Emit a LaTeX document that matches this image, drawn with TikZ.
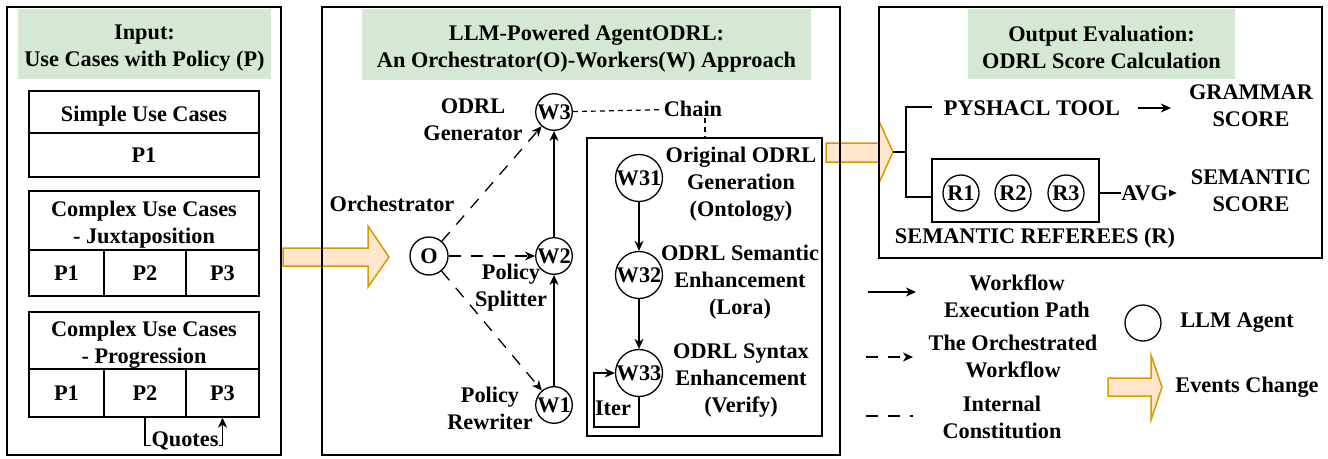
\documentclass[tikz,border=0pt]{standalone}
\usepackage{fontspec}
\setmainfont{Liberation Serif}
\usetikzlibrary{arrows.meta}
\definecolor{hdrgreen}{HTML}{D5E8D4}
\definecolor{evfill}{HTML}{FFE6CC}
\definecolor{evdraw}{HTML}{D79B00}
\newcommand\hiline{\rule{0pt}{23pt}}
\tikzset{
  bx/.style={draw, line width=2.5pt, inner sep=0pt},
  cell/.style={draw, line width=1.4pt, inner sep=0pt, align=center},
  hdr/.style={fill=hdrgreen, inner sep=0pt, align=center},
  agent/.style={circle, draw, line width=1.3pt, inner sep=0pt, minimum size=36pt},
  bigagent/.style={agent, minimum size=44pt},
  lbl/.style={align=center, inner sep=1pt},
  arr/.style={-{Stealth[length=10pt,width=9pt,inset=3pt]}, line width=1.3pt},
  orch/.style={arr, dash pattern=on 12pt off 10pt},
  orchline/.style={line width=1.3pt, dash pattern=on 12pt off 10pt},
  chaind/.style={line width=1.2pt, dash pattern=on 5pt off 4pt},
  branch/.style={line width=2.2pt},
  evt/.style={fill=evfill, draw=evdraw, line width=1.5pt, line join=miter},
}
\begin{document}
\begin{tikzpicture}[x=1pt,y=-1pt,font=\fontsize{22.3}{27}\selectfont\bfseries]
\useasboundingbox (0,0) rectangle (1328,458);
\fill[white] (0,0) rectangle (1328,458);

% event-change arrows (under the box borders)
\draw[evt] (283,248) -- (368,248) -- (368,226) -- (389,257) -- (368,287) -- (368,266) -- (283,266) -- cycle;
\draw[evt] (826,143) -- (879,143) -- (879,121) -- (893,152) -- (879,183) -- (879,162) -- (826,162) -- cycle;
\draw[evt] (1108,378) -- (1151,378) -- (1151,355) -- (1162,387) -- (1151,420) -- (1151,396) -- (1108,396) -- cycle;

% ---------------- left panel
\node[bx, minimum width=274pt, minimum height=448pt] (leftbox) at (144,231) {};
\node[hdr, minimum width=253pt, minimum height=70pt] (lefthdr) at (144.5,44) {\hiline Input:\\Use Cases with Policy (P)};
\node[cell, minimum width=230pt, minimum height=42pt] (s1h) at (144,112) {\hiline Simple Use Cases};
\node[cell, minimum width=230pt, minimum height=44pt] (s1p) at (144,155) {P1};
\node[cell, minimum width=230pt, minimum height=59pt] (jh) at (144,220.5) {\hiline Complex Use Cases\\- Juxtaposition};
\node[cell, minimum width=75pt, minimum height=46pt] (j1) at (66.5,273) {P1};
\node[cell, minimum width=82pt, minimum height=46pt] (j2) at (145,273) {P2};
\node[cell, minimum width=73pt, minimum height=46pt] (j3) at (222.5,273) {P3};
\node[cell, minimum width=230pt, minimum height=57pt] (ph) at (144,340.5) {\hiline Complex Use Cases\\- Progression};
\node[cell, minimum width=75pt, minimum height=48pt] (p1) at (66.5,393) {P1};
\node[cell, minimum width=82pt, minimum height=48pt] (p2) at (145,393) {P2};
\node[cell, minimum width=73pt, minimum height=48pt] (p3) at (222.5,393) {P3};
\draw[arr] (p2.south) -- ++(0,28) -| (p3.south);
\node[fill=white, inner sep=1pt, anchor=base] (quotes) at (185,446) {Quotes};

% ---------------- middle panel
\node[bx, minimum width=518pt, minimum height=448pt] (midbox) at (581,231) {};
\node[hdr, minimum width=449pt, minimum height=71pt] (midhdr) at (586.5,44.5) {\hiline LLM-Powered AgentODRL:\\An Orchestrator(O)-Workers(W) Approach};

\node[agent, minimum size=38pt] (O) at (429,256) {O};
\node[agent] (W3) at (554,112) {W3};
\node[agent] (W2) at (554,256) {W2};
\node[agent] (W1) at (554,405) {W1};
\node[lbl] (orchl) at (392,204) {Orchestrator};
\node[lbl] (genl) at (473,119.5) {ODRL\\Generator};
\node[lbl] (splitl) at (511,288) {Policy\\Splitter};
\node[lbl] (rewl) at (490,408) {Policy\\Rewriter};

\draw[orch] (O) -- (W3);
\draw[orch] (O) -- (W2);
\draw[orch] (O) -- (W1);
\draw[arr] (W1) -- (W2);
\draw[arr] (W2) -- (W3);

\node[lbl] (chain) at (693,109) {Chain};
\draw[chaind] (W3) -- (chain);
\node[draw, line width=1.4pt, minimum width=235pt, minimum height=298pt, inner sep=0pt] (inner) at (704.5,287) {};
\draw[chaind] ([xshift=12pt]chain.south) -- ([xshift=12pt]chain.south |- inner.north);

\node[bigagent] (W31) at (639,178) {W31};
\node[bigagent] (W32) at (639,275) {W32};
\node[bigagent] (W33) at (639,373) {W33};
\node[lbl] (t31) at (741,184) {Original ODRL\\Generation\\(Ontology)};
\node[lbl] (t32) at (740,282) {ODRL Semantic\\Enhancement\\(Lora)};
\node[lbl] (t33) at (741,380.5) {ODRL Syntax\\Enhancement\\(Verify)};
\draw[arr] (W31) -- (W32);
\draw[arr] (W32) -- (W33);
\coordinate (iterc) at (594,427);
\draw[arr] (W33.south) |- (iterc) |- (W33.west);
\node[lbl] (iterl) at (613,408) {Iter};

% ---------------- right panel
\node[bx, minimum width=443pt, minimum height=251pt] (rightbox) at (1100.5,132.5) {};
\node[hdr, minimum width=267pt, minimum height=70pt] (righthdr) at (1101.5,44) {\hiline Output Evaluation:\\ODRL Score Calculation};
\coordinate (a2tip) at (893,152);
\coordinate (br) at (906,152);
\coordinate (pyin) at (932,107);
\node[lbl] (pysh) at (1032,108) {PYSHACL TOOL};
\node[draw, line width=1.4pt, minimum width=167pt, minimum height=63pt, inner sep=0pt] (refbox) at (1015.5,190.5) {};
\draw[branch] (a2tip) -- (br);
\draw[branch] (br) |- (pyin);
\draw[branch] (br) |- ([yshift=-6.5pt]refbox.west);
\node[agent] (R1) at (961,193) {R1};
\node[agent] (R2) at (1013,193) {R2};
\node[agent] (R3) at (1066,193) {R3};
\node[lbl] (gram) at (1251,106) {GRAMMAR\\SCORE};
\node[lbl] (sem) at (1251,191) {SEMANTIC\\SCORE};
\draw[arr, shorten <=17pt, shorten >=17pt] (pysh.east) -- (gram.west |- pysh.east);
\draw[arr, shorten >=13pt] ([yshift=-2.5pt]refbox.east) -- node[fill=white, inner sep=0.5pt] (avg) {AVG} ([yshift=-2.5pt]refbox.east -| sem.west);
\node[lbl] (refl) at (1035,238) {SEMANTIC REFEREES (R)};

% ---------------- legend
\coordinate (l1a) at (868,292);
\coordinate (l1b) at (916,292);
\coordinate (l2a) at (866,357);
\coordinate (l2b) at (913,357);
\coordinate (l3a) at (866,416);
\coordinate (l3b) at (913,416);
\draw[arr] (l1a) -- (l1b);
\draw[orch] (l2a) -- (l2b);
\draw[orchline] (l3a) -- (l3b);
\node[lbl] (lg1) at (1017,296) {Workflow\\Execution Path};
\node[lbl] (lg2) at (1013,356.5) {The Orchestrated\\Workflow};
\node[lbl] (lg3) at (1002,417) {Internal\\Constitution};
\node[agent] (legc) at (1143,323) {};
\node[lbl] (lg4) at (1237,323) {LLM Agent};
\node[lbl] (lg5) at (1247,387) {Events Change};
\end{tikzpicture}
\end{document}
